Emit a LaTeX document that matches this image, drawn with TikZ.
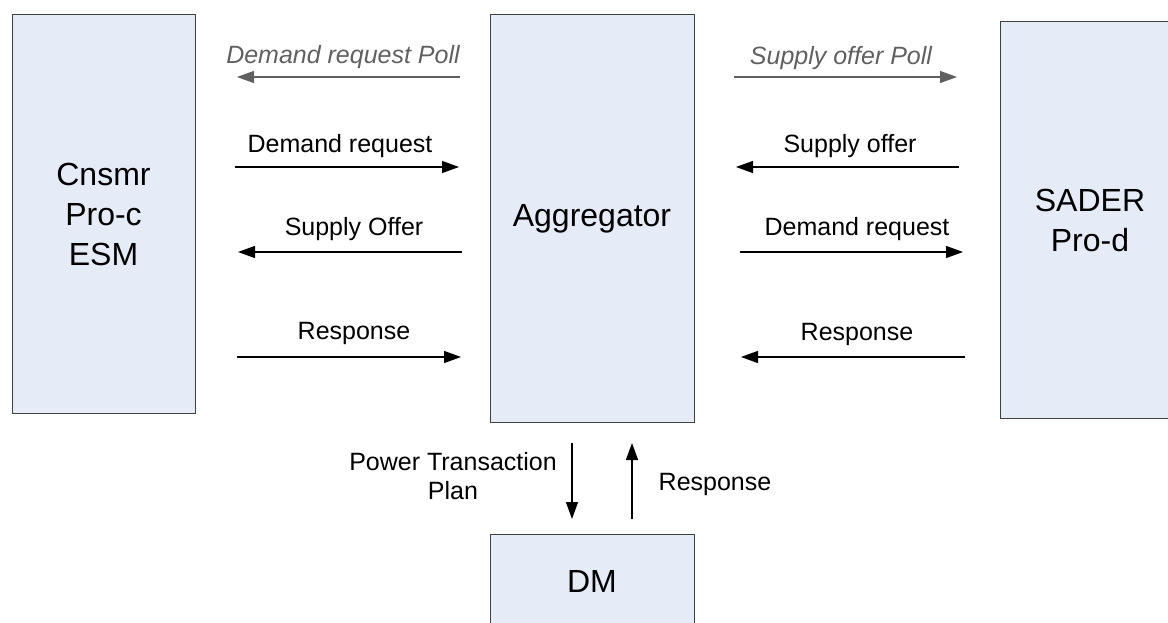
\documentclass[tikz,border=0pt]{standalone}
\usepackage{fontspec}
\setmainfont{Liberation Sans}
\usetikzlibrary{arrows.meta}
\definecolor{boxfill}{HTML}{E6ECF7}
\definecolor{boxline}{HTML}{404040}
\definecolor{pollgray}{HTML}{606060}

\begin{document}
\begin{tikzpicture}[x=1pt,y=-1pt,
  unit/.style={draw=boxline, line width=1pt, fill=boxfill, inner sep=0pt,
    align=center, font=\fontsize{32}{40}\selectfont},
  msg/.style={line width=1.3pt, -{Triangle[length=17pt,width=12pt]}},
  poll/.style={msg, draw=pollgray, fill=pollgray},
  lbl/.style={anchor=base, inner sep=0pt, font=\fontsize{25}{29}\selectfont},
  polllbl/.style={lbl, text=pollgray, font=\fontsize{25}{29}\selectfont\itshape}]
\useasboundingbox (0,0) rectangle (1168,623);

% participants
\node[unit, minimum width=183pt, minimum height=398pt] (cons)  at (103.5,214)  {Cnsmr\\Pro-c\\ESM};
\node[unit, minimum width=204pt, minimum height=407pt] (agg)   at (592,218.5)  {Aggregator};
\node[unit, minimum width=180pt, minimum height=396pt] (sader) at (1090,220)   {SADER\\Pro-d};
\node[unit, minimum width=204pt, minimum height=94pt]  (dm)    at (592,581)    {DM};

% message end points, consumer side
\coordinate (lpA) at (460,77);  \coordinate (lpB) at (237,77);
\coordinate (ldA) at (235,167); \coordinate (ldB) at (459,167);
\coordinate (lsA) at (462,252); \coordinate (lsB) at (238,252);
\coordinate (lrA) at (237,357); \coordinate (lrB) at (461,357);
% message end points, producer side
\coordinate (rpA) at (734,77);  \coordinate (rpB) at (957,77);
\coordinate (rsA) at (959,167); \coordinate (rsB) at (736,167);
\coordinate (rdA) at (740,252); \coordinate (rdB) at (963,252);
\coordinate (rrA) at (965,357); \coordinate (rrB) at (741,357);
% aggregator <-> DM
\coordinate (pA) at (572,443); \coordinate (pB) at (572,519);
\coordinate (qA) at (632,519); \coordinate (qB) at (632,443);

% consumer side messages
\draw[poll] (lpA) -- (lpB);
\node[polllbl] (lpT) at (343,64) {Demand request Poll};
\draw[msg] (ldA) -- (ldB);
\node[lbl] (ldT) at (340,153) {Demand request};
\draw[msg] (lsA) -- (lsB);
\node[lbl] (lsT) at (354,235) {Supply Offer};
\draw[msg] (lrA) -- (lrB);
\node[lbl] (lrT) at (354,339) {Response};

% producer side messages
\draw[poll] (rpA) -- (rpB);
\node[polllbl] (rpT) at (841,65) {Supply offer Poll};
\draw[msg] (rsA) -- (rsB);
\node[lbl] (rsT) at (850,153) {Supply offer};
\draw[msg] (rdA) -- (rdB);
\node[lbl] (rdT) at (857,236) {Demand request};
\draw[msg] (rrA) -- (rrB);
\node[lbl] (rrT) at (857,340) {Response};

% decision maker messages
\draw[msg] (pA) -- (pB);
\node[lbl, anchor=center, align=center] (pT) at (453,476.5) {Power Transaction\\Plan};
\draw[msg] (qA) -- (qB);
\node[lbl] (qT) at (715,490) {Response};
\end{tikzpicture}
\end{document}
